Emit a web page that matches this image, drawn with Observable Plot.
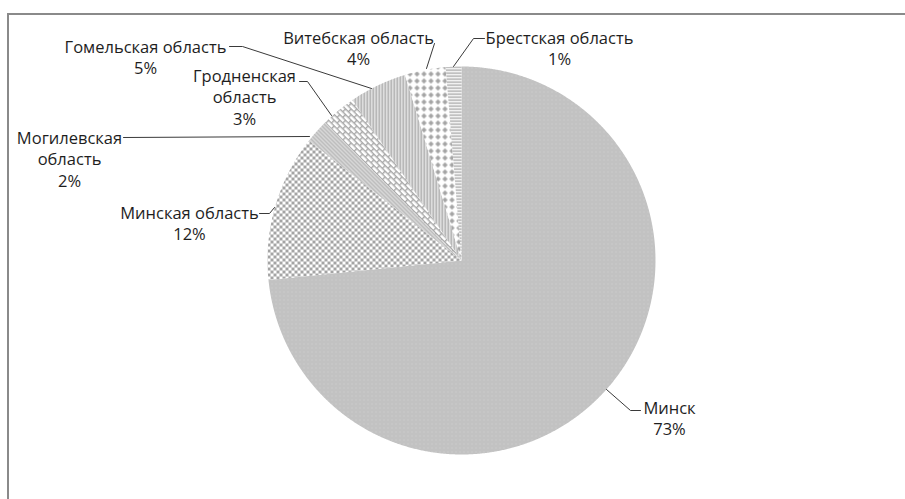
<!DOCTYPE html>
<html><head><meta charset="utf-8">
<script src="https://cdn.jsdelivr.net/npm/d3@7"></script>
<script src="https://cdn.jsdelivr.net/npm/@observablehq/plot@0.6"></script>
<style>
body{margin:0;background:#fff;}
#wrap{position:relative;width:905px;height:499px;overflow:hidden;}
#frame{position:absolute;left:7px;top:13px;width:920px;height:520px;border-left:2px solid #8a8a8a;border-top:2px solid #8a8a8a;pointer-events:none;}
svg{position:absolute;left:0;top:0;}
</style></head><body>
<div id="wrap"><div id="frame"></div></div>
<script>
// ---- data ----
const regions = ["Минск","Минская область","Могилевская область","Гродненская область","Гомельская область","Витебская область","Брестская область"];
const shares = [73.4, 12.2, 2.0, 2.9, 4.8, 3.4, 1.3];
const percentLabels = ["73%","12%","2%","3%","5%","4%","1%"];
const labelLines = ["Минск","Минская область","Могилевская\nобласть","Гродненская\nобласть","Гомельская область","Витебская область","Брестская область"];

// ---- layout ----
const W = 905, H = 499, CX = 461, CY = 260, R = 194;
const FS = 16.5;
const ux = px => (px - CX) / R, uy = py => (CY - py) / R;
const patternIds = ["pMinsk","pMinskObl","pMogilev","pGrodno","pGomel","pVitebsk","pBrest"];
// label block: [center x, first baseline y] in pixels
const labelPos = [[669,410],[189,215],[69,140],[244,78],[145,49],[358,40],[559,40]];
const leaderPts = [
  [[606,389],[630,410],[640,410]],
  [[259,213],[269,213],[274,207]],
  [[123,137],[309,136]],
  [[299,81],[307,81],[331,115]],
  [[229,46],[242,46],[371,88]],
  [[434,43],[426,68]],
  [[484,38],[473,38],[453,66]]
];

const data = regions.map((r,i)=>({region:r, share:shares[i], label:labelLines[i]+"\n"+percentLabels[i]}));
const arcs = d3.pie().sort(null).value(d=>d.share)(data);
const slicePts = [];
arcs.forEach(a=>{
  const name = a.data.region;
  slicePts.push({region:name,x:0,y:0});
  const n = Math.max(4, Math.ceil((a.endAngle-a.startAngle)/0.005));
  for(let k=0;k<=n;k++){
    const t = a.startAngle + (a.endAngle-a.startAngle)*k/n;
    slicePts.push({region:name,x:Math.sin(t),y:Math.cos(t)});
  }
  slicePts.push({region:name,x:0,y:0});
});
const leaderData = [];
leaderPts.forEach((pts,i)=>pts.forEach(p=>leaderData.push({region:regions[i],x:ux(p[0]),y:uy(p[1])})));
const labelData = data.map((d,i)=>({text:d.label,x:ux(labelPos[i][0]),y:uy(labelPos[i][1]-0.71*FS)}));

const chart = Plot.plot({
  width: W, height: H,
  x: {domain:[-1,1], range:[CX-R, CX+R], axis:null},
  y: {domain:[-1,1], range:[CY+R, CY-R], axis:null},
  color: {domain: regions, range: patternIds.map(id=>`url(#${id})`)},
  style: {background:"transparent"},
  marks: [
    Plot.line(slicePts, {x:"x", y:"y", z:"region", fill:"region", stroke:null, curve:"linear"}),
    Plot.line(leaderData, {x:"x", y:"y", z:"region", stroke:"#3a3a3a", strokeWidth:1}),
    Plot.text(labelData, {x:"x", y:"y", text:"text", lineAnchor:"top", textAnchor:"middle", lineHeight:1.3,
      fontSize:FS, fontFamily:"'Open Sans', sans-serif", fill:"#1e1e1e"})
  ]
});

const defs = `
<defs>
 <pattern id="pMinsk" patternUnits="userSpaceOnUse" width="4" height="4">
  <rect width="4" height="4" fill="#d6d6d6"/>
  <rect x="0" y="0" width="1" height="1" fill="#a8a8a8"/><rect x="2" y="0" width="1" height="1" fill="#a8a8a8"/>
  <rect x="1" y="1" width="1" height="1" fill="#b4b4b4"/><rect x="3" y="1" width="1" height="1" fill="#b4b4b4"/>
  <rect x="0" y="2" width="1" height="1" fill="#a8a8a8"/><rect x="2" y="2" width="1" height="1" fill="#a8a8a8"/>
  <rect x="1" y="3" width="1" height="1" fill="#b4b4b4"/><rect x="3" y="3" width="1" height="1" fill="#c4c4c4"/>
 </pattern>
 <pattern id="pMinskObl" patternUnits="userSpaceOnUse" width="6" height="6">
  <rect width="6" height="6" fill="#ffffff"/>
  <rect x="0" y="0" width="3" height="3" fill="#a4a4a4"/><rect x="3" y="3" width="3" height="3" fill="#a4a4a4"/>
 </pattern>
 <pattern id="pMogilev" patternUnits="userSpaceOnUse" width="4" height="4">
  <rect width="4" height="4" fill="#d6d6d6"/>
  <rect x="0" y="0" width="1" height="1" fill="#a6a6a6"/><rect x="1" y="1" width="1" height="1" fill="#a6a6a6"/>
  <rect x="2" y="2" width="1" height="1" fill="#a6a6a6"/><rect x="3" y="3" width="1" height="1" fill="#a6a6a6"/>
 </pattern>
 <pattern id="pGrodno" patternUnits="userSpaceOnUse" width="8" height="8" patternTransform="rotate(45)">
  <rect width="8" height="8" fill="#ffffff"/>
  <rect x="0" y="0" width="8" height="1.4" fill="#a8a8a8"/><rect x="0" y="4" width="8" height="1.4" fill="#a8a8a8"/>
  <rect x="0" y="0" width="1.4" height="4" fill="#a8a8a8"/><rect x="4" y="4" width="1.4" height="4" fill="#a8a8a8"/>
 </pattern>
 <pattern id="pGomel" patternUnits="userSpaceOnUse" width="3" height="3">
  <rect width="3" height="3" fill="#efefef"/>
  <rect x="0" y="0" width="1.5" height="3" fill="#a6a6a6"/>
 </pattern>
 <pattern id="pVitebsk" patternUnits="userSpaceOnUse" width="7" height="7">
  <rect width="7" height="7" fill="#ffffff"/>
  <path d="M3.5 0.8 L6.2 3.5 L3.5 6.2 L0.8 3.5 Z" fill="#a4a4a4"/>
 </pattern>
 <pattern id="pBrest" patternUnits="userSpaceOnUse" width="3" height="3">
  <rect width="3" height="3" fill="#ffffff"/>
  <rect x="0" y="0" width="3" height="1.3" fill="#a0a0a0"/>
 </pattern>
</defs>`;
chart.insertAdjacentHTML("afterbegin", defs);
document.getElementById("wrap").appendChild(chart);
</script>
</body></html>
